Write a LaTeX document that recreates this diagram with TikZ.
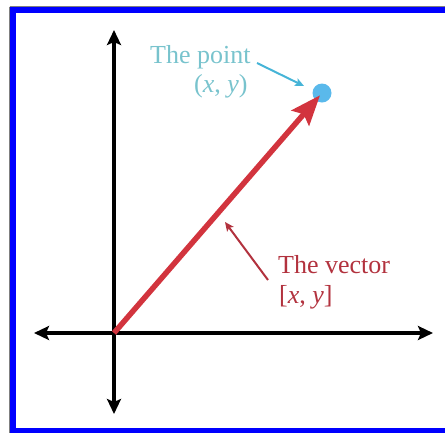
\documentclass[tikz,border=0pt]{standalone}
\usepackage{fontspec}
\setmainfont{Liberation Serif}
\usetikzlibrary{arrows.meta}
\definecolor{frameblue}{RGB}{0,0,255}
\definecolor{vecred}{RGB}{210,52,62}
\definecolor{txtred}{RGB}{178,50,62}
\definecolor{dotblue}{RGB}{90,185,235}
\definecolor{txtcyan}{RGB}{120,195,205}
\definecolor{arrcyan}{RGB}{70,180,215}
\tikzset{
  axis/.style={line width=4pt, black, {Stealth[length=15pt,width=14pt,inset=3pt]}-{Stealth[length=15pt,width=14pt,inset=3pt]}},
  vec/.style={line width=5.5pt, vecred, -{Stealth[length=30pt,width=23pt,inset=5pt]}},
  pointer/.style={line width=2pt, -{Stealth[length=9pt,width=8pt,inset=2pt]}},
  lbl/.style={inner sep=0pt, font=\fontsize{26}{30}\selectfont},
}
\begin{document}
\begin{tikzpicture}[x=1pt,y=-1pt]
\useasboundingbox (0,0) rectangle (445,432);
\begin{scope}
\clip (0,0) rectangle (445,432);
\draw[gray, line width=1pt] (9.5,6.5) -- (9.5,440);
\draw[gray, line width=1pt] (9.5,6.5) -- (450,6.5);
\draw[frameblue, line width=6pt] (13,10) rectangle (455,431);
\end{scope}
% axes
\coordinate (O) at (114,333);
\coordinate (yt) at (114,30);
\coordinate (yb) at (114,414);
\coordinate (xl) at (34,333);
\coordinate (xr) at (433,333);
\draw[axis] (yb) -- (yt);
\draw[axis] (xl) -- (xr);
% point
\node[circle, fill=dotblue, minimum size=19pt, inner sep=0pt] (P) at (322,93) {};
% vector
\draw[vec, shorten >=3pt] (O) -- (P.center);
% labels
\node[lbl, text=txtcyan, anchor=base west] (tp) at (150,63) {The point};
\node[lbl, text=txtcyan, anchor=base west] (tpxy) at (194,92) {(\textit{x}, \textit{y})};
\node[lbl, text=txtred, anchor=base west] (tv) at (278,273) {The vector};
\node[lbl, text=txtred, anchor=base west] (tvxy) at (279,303) {[\textit{x}, \textit{y}]};
% pointers
\coordinate (cs) at (257,63);
\coordinate (ce) at (304,86);
\draw[pointer, arrcyan] (cs) -- (ce);
\coordinate (rs) at (268,280);
\coordinate (re) at (225,222);
\draw[pointer, txtred] (rs) -- (re);
\end{tikzpicture}
\end{document}
